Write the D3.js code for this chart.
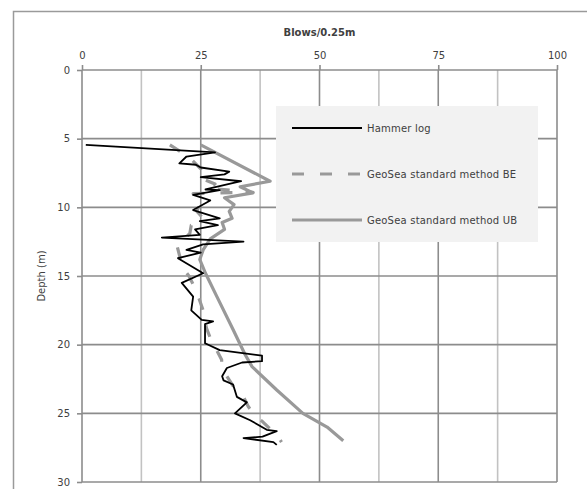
<!DOCTYPE html>
<html>
<head>
<meta charset="utf-8">
<script src="https://cdn.jsdelivr.net/npm/d3@7"></script>
<style>
  body { margin: 0; background: #fff; }
  text { font-family: "DejaVu Sans", sans-serif; fill: #404040; }
</style>
</head>
<body>
<div id="chart"></div>
<script>
// axis ticks
const blowTicks = [0, 25, 50, 75, 100];
const blowGrid = [12.5, 37.5, 62.5, 87.5];
const depthTicks = [0, 5, 10, 15, 20, 25, 30];

// series: [blows, depth]
const hammerLog = [
  [0.8, 5.45], [28, 6.0], [22, 6.3], [20.5, 6.8], [24, 6.9], [25, 7.1], [31, 7.4],
  [30, 7.6], [25, 7.8], [33.5, 8.1], [26, 8.7], [29, 8.75], [23.4, 9.1], [27, 9.5],
  [23.4, 10.2], [29, 10.8], [24.8, 11.0], [28.6, 11.3], [23.8, 11.6], [24.8, 12.0],
  [16.8, 12.2], [34, 12.5], [25.5, 12.7], [22, 13.1], [25, 13.3], [20.2, 13.7],
  [25.5, 14.8], [21, 15.5], [23.4, 16.5], [23, 17.5], [25.2, 18.2], [27.6, 18.3],
  [25.9, 18.5], [25.9, 19.9], [29, 20.4], [37.9, 20.8], [37.9, 21.2], [33.7, 21.3],
  [30.5, 21.7], [29.5, 22.3], [29.8, 22.6], [31.8, 22.9], [32.6, 23.8], [34.7, 24.2],
  [32.2, 25.0], [35.4, 25.5], [38.9, 26.2], [41, 26.3], [38, 26.7], [34, 26.8],
  [40.3, 27.1], [41, 27.3]
];

const geoSeaBE = [
  [18.5, 5.45], [21, 6.0], [23, 6.5], [25, 7.2], [24.5, 7.8], [28, 8.3], [26.5, 8.6],
  [36, 8.9], [23.4, 9.0], [25, 9.5], [24.2, 10.3], [25.5, 10.8], [23, 11.3],
  [22.7, 11.9], [20, 12.8], [20.6, 13.6], [21, 14.3], [22.5, 15.0], [24, 16.0],
  [25, 17.0], [25.5, 17.5], [26.2, 18.8], [27, 19.5], [28.5, 20.5], [29.4, 21.1],
  [29.4, 21.7], [30.5, 22.3], [31.8, 23.0], [34, 23.8], [35, 24.5], [36.5, 25.2],
  [38, 25.6], [41.3, 26.7], [42, 27.1]
];

const geoSeaUB = [
  [25, 5.45], [39.6, 8.1], [33.3, 8.5], [36, 8.95], [30, 9.3], [32, 9.8], [31, 10.3],
  [31.6, 10.8], [29.5, 11.1], [30, 11.6], [27, 12.3], [25.5, 13.1], [24.8, 13.8],
  [26, 14.8], [28.4, 16.5], [31.8, 18.9], [34.3, 20.7], [35.8, 21.6], [41, 23.3],
  [46.5, 25], [51.6, 26], [55, 27]
];

const legendLabels = ["Hammer log", "GeoSea standard method BE", "GeoSea standard method UB"];

const width = 587, height = 489;
const svg = d3.select("#chart").append("svg")
  .attr("width", width)
  .attr("height", height);

// outer frame (runs past the right and bottom edges)
svg.append("rect")
  .attr("x", 13.5).attr("y", 11.5)
  .attr("width", 640).attr("height", 520)
  .attr("fill", "none")
  .attr("stroke", "#9a9a9a")
  .attr("stroke-width", 1.5);

const x = d3.scaleLinear().domain([0, 100]).range([82, 557]);
const y = d3.scaleLinear().domain([0, 30]).range([70, 482]);

// grid
svg.append("g").selectAll("line")
  .data(blowGrid)
  .join("line")
  .attr("x1", d => x(d)).attr("x2", d => x(d))
  .attr("y1", y(0)).attr("y2", y(30))
  .attr("stroke", "#c2c2c2")
  .attr("stroke-width", 1.6);

svg.append("g").selectAll("line")
  .data(blowTicks)
  .join("line")
  .attr("x1", d => x(d)).attr("x2", d => x(d))
  .attr("y1", y(0)).attr("y2", y(30))
  .attr("stroke", "#8c8c8c")
  .attr("stroke-width", 1.6);

svg.append("g").selectAll("line")
  .data(depthTicks)
  .join("line")
  .attr("x1", x(0)).attr("x2", x(100))
  .attr("y1", d => y(d)).attr("y2", d => y(d))
  .attr("stroke", "#8c8c8c")
  .attr("stroke-width", 1.6);

// axes
const topAxis = svg.append("g")
  .attr("transform", `translate(0,${y(0)})`)
  .call(d3.axisTop(x).tickValues(blowTicks).tickSize(5).tickPadding(6));
const leftAxis = svg.append("g")
  .attr("transform", `translate(${x(0)},0)`)
  .call(d3.axisLeft(y).tickValues(depthTicks).tickSize(5).tickPadding(7));

[topAxis, leftAxis].forEach(ax => {
  ax.select(".domain").remove();
  ax.selectAll(".tick line").attr("stroke", "#8c8c8c").attr("stroke-width", 1.6);
  ax.selectAll(".tick text")
    .attr("font-family", "DejaVu Sans, sans-serif")
    .attr("font-size", 10)
    .attr("fill", "#404040");
});

// axis titles
svg.append("text")
  .attr("x", x(50)).attr("y", 36)
  .attr("text-anchor", "middle")
  .attr("font-size", 10)
  .attr("font-weight", "bold")
  .text("Blows/0.25m");

svg.append("text")
  .attr("transform", `translate(45,${y(15)}) rotate(-90)`)
  .attr("text-anchor", "middle")
  .attr("font-size", 10)
  .text("Depth  (m)");

// lines
const line = d3.line().x(d => x(d[0])).y(d => y(d[1]));

svg.append("path")
  .datum(geoSeaBE)
  .attr("d", line)
  .attr("fill", "none")
  .attr("stroke", "#999999")
  .attr("stroke-width", 3.2)
  .attr("stroke-dasharray", "12,16")
  .attr("stroke-linejoin", "round");

svg.append("path")
  .datum(geoSeaUB)
  .attr("d", line)
  .attr("fill", "none")
  .attr("stroke", "#999999")
  .attr("stroke-width", 3.2)
  .attr("stroke-linejoin", "round");

svg.append("path")
  .datum(hammerLog)
  .attr("d", line)
  .attr("fill", "none")
  .attr("stroke", "#000")
  .attr("stroke-width", 1.8)
  .attr("stroke-linejoin", "round");

// legend
const legend = svg.append("g");
legend.append("rect")
  .attr("x", 276).attr("y", 106)
  .attr("width", 262).attr("height", 136)
  .attr("fill", "#f2f2f2");

const legendStyles = [
  { stroke: "#000", width: 2, dash: null },
  { stroke: "#999999", width: 3.2, dash: "12,16" },
  { stroke: "#999999", width: 3.2, dash: null }
];

legendLabels.forEach((label, i) => {
  const ly = 128 + i * 46;
  const s = legendStyles[i];
  legend.append("line")
    .attr("x1", 292).attr("x2", 362)
    .attr("y1", ly).attr("y2", ly)
    .attr("stroke", s.stroke)
    .attr("stroke-width", s.width)
    .attr("stroke-dasharray", s.dash);
  legend.append("text")
    .attr("x", 367).attr("y", ly)
    .attr("dy", "0.35em")
    .attr("font-size", 10)
    .attr("letter-spacing", 0.2)
    .text(label);
});
</script>
</body>
</html>
